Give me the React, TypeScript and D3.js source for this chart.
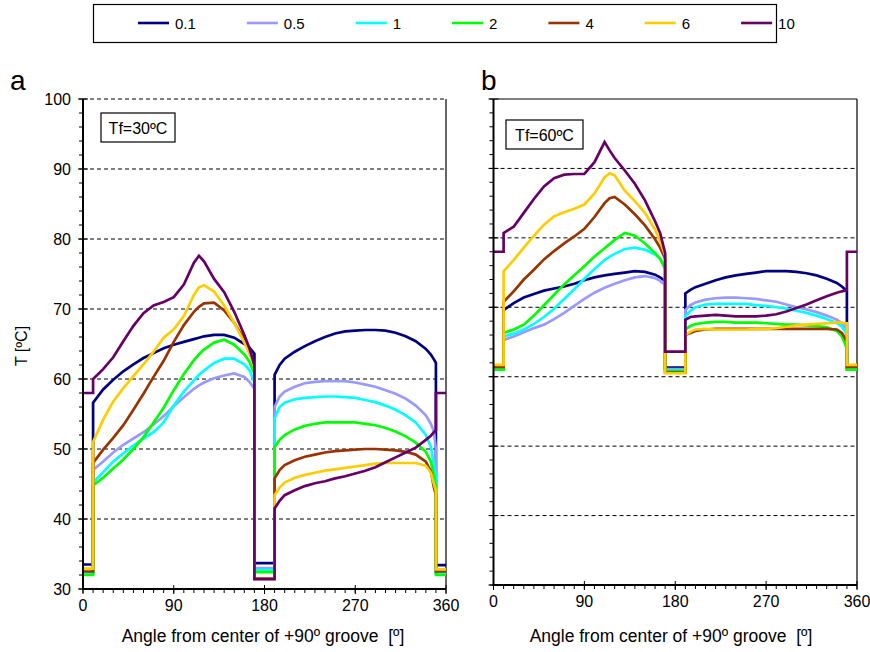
import React, { useEffect, useRef } from 'react'
import * as d3 from 'd3'

// legend / series
const SERIES = ['0.1', '0.5', '1', '2', '4', '6', '10']
const COLORS = ['#000080', '#9999FF', '#00FFFF', '#00FF00', '#993300', '#FFCC00', '#660066']

// angles [deg] of the two heated arcs
const ANGLES_RISE = [10, 20, 30, 40, 50, 60, 70, 80, 90, 100, 110, 115, 120, 130, 140, 150, 160, 165, 170]
const ANGLES_FALL = [190, 195, 200, 210, 220, 230, 240, 250, 260, 270, 280, 290, 300, 310, 320, 330, 340, 345, 348, 350]
const X_TICKS = [0, 90, 180, 270, 360]
const Y_TICKS = [30, 40, 50, 60, 70, 80, 90, 100]

// panel a, Tf = 30
const A_RISE = [
  [56.6, 58.5, 59.9, 61.1, 62.1, 63.0, 63.7, 64.4, 64.9, 65.3, 65.7, 65.9, 66.1, 66.3, 66.3, 65.9, 65.0, 64.5, 63.6],
  [47.0, 48.2, 49.5, 50.6, 51.5, 52.4, 53.5, 54.7, 56.1, 57.4, 58.6, 59.1, 59.5, 60.1, 60.5, 60.8, 60.3, 59.6, 58.6],
  [45.2, 46.7, 48.2, 49.4, 50.5, 51.5, 52.4, 53.8, 56.2, 58.2, 59.8, 60.6, 61.2, 62.3, 62.9, 62.9, 62.1, 61.3, 59.5],
  [44.8, 45.9, 47.2, 48.5, 50.0, 51.7, 53.8, 55.9, 58.4, 60.7, 62.7, 63.5, 64.2, 65.2, 65.6, 64.9, 63.5, 62.5, 60.8],
  [48.0, 49.9, 51.6, 53.4, 55.6, 57.9, 60.3, 62.6, 65.3, 67.7, 69.6, 70.3, 70.8, 70.9, 69.8, 68.0, 65.7, 64.2, 62.0],
  [51.0, 54.2, 56.8, 58.7, 60.4, 62.1, 63.9, 65.9, 67.1, 69.0, 72.0, 73.1, 73.4, 72.5, 70.5, 68.0, 65.2, 63.6, 62.0],
  [60.0, 61.4, 63.1, 65.4, 67.6, 69.4, 70.5, 71.0, 71.7, 73.5, 76.6, 77.6, 76.8, 74.3, 72.4, 69.6, 66.3, 64.4, 62.0],
]
const A_FALL = [
  [60.6, 62.0, 62.9, 63.9, 64.7, 65.4, 66.0, 66.5, 66.8, 66.9, 67.0, 67.0, 66.9, 66.6, 66.1, 65.4, 64.3, 63.5, 62.8, 62.3],
  [56.0, 57.5, 58.2, 58.9, 59.4, 59.6, 59.7, 59.7, 59.7, 59.5, 59.2, 58.9, 58.4, 57.9, 57.2, 56.2, 54.8, 53.6, 52.5, 50.0],
  [54.4, 56.0, 56.6, 57.1, 57.3, 57.4, 57.5, 57.5, 57.4, 57.3, 57.0, 56.7, 56.2, 55.6, 54.8, 53.8, 52.0, 50.3, 47.8, 46.0],
  [50.3, 51.3, 52.0, 52.8, 53.3, 53.6, 53.8, 53.8, 53.8, 53.8, 53.6, 53.4, 53.0, 52.5, 51.8, 50.9, 49.6, 48.2, 46.2, 44.5],
  [45.8, 47.0, 47.7, 48.4, 48.9, 49.2, 49.5, 49.7, 49.8, 49.9, 50.0, 50.0, 49.9, 49.8, 49.6, 49.2, 48.2, 46.8, 44.5, 43.5],
  [43.4, 44.5, 45.2, 45.9, 46.3, 46.6, 46.9, 47.1, 47.3, 47.5, 47.7, 47.9, 48.0, 48.0, 48.0, 48.0, 47.6, 46.6, 45.0, 44.0],
  [41.5, 42.6, 43.4, 44.1, 44.7, 45.1, 45.4, 45.8, 46.1, 46.5, 46.9, 47.4, 48.1, 48.8, 49.5, 50.2, 51.3, 51.9, 52.4, 52.7],
]
const A_GROOVE_LEFT = [33.5, 32.3, 32.2, 32.0, 32.5, 32.9, 58.0]
const A_GROOVE_MID = [33.7, 33.0, 32.7, 32.4, 31.5, 31.4, 31.4]
const A_GROOVE_RIGHT = [33.4, 32.6, 32.3, 32.0, 32.5, 32.8, 58.0]

// panel b, Tf = 60
const B_RISE = [
  [69.6, 70.6, 71.4, 71.9, 72.4, 72.7, 73.0, 73.4, 73.9, 74.3, 74.6, 74.7, 74.8, 75.0, 75.2, 75.1, 74.7, 74.3, 73.8],
  [65.3, 65.8, 66.4, 67.0, 67.5, 68.3, 69.2, 70.2, 71.2, 72.1, 72.8, 73.1, 73.4, 73.9, 74.3, 74.5, 74.2, 73.8, 73.2],
  [65.8, 66.2, 66.8, 67.6, 68.6, 69.8, 71.2, 72.6, 74.1, 75.5, 76.8, 77.3, 77.7, 78.4, 78.6, 78.3, 77.6, 77.0, 75.8],
  [66.3, 66.8, 67.5, 68.8, 70.3, 71.8, 73.3, 74.6, 75.9, 77.3, 78.5, 79.1, 79.7, 80.7, 80.3, 79.2, 77.8, 77.0, 75.5],
  [70.8, 72.3, 74.0, 75.4, 76.9, 78.1, 79.2, 80.2, 81.3, 83.0, 85.0, 85.7, 85.9, 84.8, 83.4, 81.8, 79.8, 78.6, 77.0],
  [75.2, 76.8, 78.6, 80.3, 81.9, 83.1, 83.7, 84.2, 84.8, 86.4, 88.7, 89.3, 89.0, 86.8, 85.3, 83.6, 81.2, 79.5, 77.5],
  [80.7, 81.6, 83.6, 85.6, 87.4, 88.6, 89.1, 89.2, 89.2, 90.9, 93.8, 92.6, 91.5, 89.7, 87.8, 85.4, 82.4, 80.7, 77.8],
]
const B_FALL = [
  [72.0, 72.5, 72.9, 73.4, 73.9, 74.3, 74.6, 74.8, 75.0, 75.2, 75.2, 75.2, 75.1, 74.9, 74.6, 74.1, 73.5, 73.0, 72.6, 72.3],
  [69.6, 70.3, 70.7, 71.1, 71.3, 71.4, 71.4, 71.3, 71.2, 71.0, 70.8, 70.4, 70.0, 69.7, 69.3, 68.8, 68.2, 67.7, 67.2, 66.8],
  [68.7, 69.5, 70.0, 70.4, 70.5, 70.5, 70.5, 70.5, 70.3, 70.2, 70.0, 69.8, 69.5, 69.2, 68.8, 68.3, 67.7, 67.2, 66.6, 66.0],
  [66.8, 67.3, 67.6, 67.8, 67.9, 67.9, 67.8, 67.8, 67.8, 67.7, 67.6, 67.5, 67.5, 67.4, 67.3, 67.1, 66.6, 65.8, 64.8, 64.0],
  [66.0, 66.3, 66.6, 66.8, 66.9, 66.9, 66.9, 66.9, 66.9, 66.9, 66.9, 66.9, 66.9, 66.9, 66.9, 66.9, 66.8, 66.3, 65.6, 65.0],
  [66.0, 66.5, 66.8, 66.9, 66.8, 66.8, 66.8, 66.8, 66.9, 66.9, 67.0, 67.2, 67.4, 67.5, 67.6, 67.7, 67.8, 67.8, 67.7, 67.7],
  [68.2, 68.6, 68.7, 68.8, 68.9, 68.8, 68.7, 68.7, 68.7, 68.8, 69.0, 69.4, 69.9, 70.4, 71.0, 71.6, 72.1, 72.3, 72.4, 72.5],
]
const B_GROOVE_LEFT = [61.3, 61.2, 61.1, 61.0, 61.4, 61.7, 78.0]
const B_GROOVE_MID = [61.3, 61.1, 60.9, 60.8, 60.6, 60.5, 63.6]
const B_GROOVE_RIGHT = [61.3, 61.2, 61.1, 61.0, 61.4, 61.7, 78.0]

const FONT = "'Liberation Sans', Arial, sans-serif"

function buildSeries(gl: number, rise: number[], gm: number, fall: number[], gr: number) {
  const pts: [number, number][] = [[0, gl], [ANGLES_RISE[0], gl]]
  ANGLES_RISE.forEach((a, i) => pts.push([a, rise[i]]))
  pts.push([ANGLES_RISE[ANGLES_RISE.length - 1], gm], [ANGLES_FALL[0], gm])
  ANGLES_FALL.forEach((a, i) => pts.push([a, fall[i]]))
  pts.push([ANGLES_FALL[ANGLES_FALL.length - 1], gr], [360, gr])
  return pts
}

function drawPanel(svg: any, p: any) {
  const x = d3.scaleLinear().domain([0, 360]).range([p.left, p.right])
  const y = d3.scaleLinear().domain([30, 100]).range([p.bottom, p.top])
  const g = svg.append('g')

  // dashed grid
  g.selectAll('.grid')
    .data(p.solidTop ? Y_TICKS.slice(1, -1) : Y_TICKS.slice(1))
    .enter().append('line')
    .attr('x1', p.left).attr('x2', p.right)
    .attr('y1', (d: number) => y(d)).attr('y2', (d: number) => y(d))
    .attr('stroke', '#000').attr('stroke-width', 1).attr('stroke-dasharray', '4,3')

  // frame (right, and top for b)
  g.append('line').attr('x1', p.right).attr('x2', p.right).attr('y1', p.top).attr('y2', p.bottom)
    .attr('stroke', '#000').attr('stroke-width', 1.2)
  if (p.solidTop) {
    g.append('line').attr('x1', p.left).attr('x2', p.right).attr('y1', p.top).attr('y2', p.top)
      .attr('stroke', '#000').attr('stroke-width', 1.2)
  }

  // curves
  const line = d3.line<[number, number]>().x(d => x(d[0])).y(d => y(d[1]))
  p.series.forEach((s: [number, number][], i: number) => {
    g.append('path').datum(s).attr('d', line)
      .attr('fill', 'none').attr('stroke', COLORS[i]).attr('stroke-width', 2.7)
      .attr('stroke-linejoin', 'miter')
  })

  // y axis
  const yMinor = g.append('g')
  yMinor.selectAll('line').data(d3.range(30, 101, 2)).enter().append('line')
    .attr('x1', p.left - 4).attr('x2', p.left)
    .attr('y1', (d: number) => y(d)).attr('y2', (d: number) => y(d))
    .attr('stroke', '#000').attr('stroke-width', 1)
  yMinor.selectAll('.maj').data(Y_TICKS).enter().append('line')
    .attr('x1', p.left - 5).attr('x2', p.left + 5)
    .attr('y1', (d: number) => y(d)).attr('y2', (d: number) => y(d))
    .attr('stroke', '#000').attr('stroke-width', 1)
  if (p.yLabels) {
    yMinor.selectAll('text').data(Y_TICKS).enter().append('text')
      .attr('x', p.left - 12).attr('y', (d: number) => y(d) + 5.5)
      .attr('text-anchor', 'end').style('font-size', '16px').style('font-family', FONT)
      .text((d: number) => d)
  }
  g.append('line').attr('x1', p.left).attr('x2', p.left).attr('y1', p.top).attr('y2', p.bottom + 1)
    .attr('stroke', '#000').attr('stroke-width', 2)

  // x axis
  const xa = g.append('g')
  xa.selectAll('line').data(d3.range(0, 361, 10)).enter().append('line')
    .attr('x1', (d: number) => x(d)).attr('x2', (d: number) => x(d))
    .attr('y1', p.bottom).attr('y2', p.bottom + 4)
    .attr('stroke', '#000').attr('stroke-width', 1)
  xa.selectAll('.maj').data(X_TICKS).enter().append('line')
    .attr('x1', (d: number) => x(d)).attr('x2', (d: number) => x(d))
    .attr('y1', p.bottom - 4).attr('y2', p.bottom + 5)
    .attr('stroke', '#000').attr('stroke-width', 1)
  xa.selectAll('text').data(X_TICKS).enter().append('text')
    .attr('x', (d: number) => x(d)).attr('y', p.bottom + 22)
    .attr('text-anchor', 'middle').style('font-size', '16px').style('font-family', FONT)
    .text((d: number) => d)
  g.append('line').attr('x1', p.left - 1).attr('x2', p.right).attr('y1', p.bottom).attr('y2', p.bottom)
    .attr('stroke', '#000').attr('stroke-width', 2)

  svg.append('text').attr('x', p.titleX).attr('y', 642)
    .attr('text-anchor', 'middle').style('font-size', '17.5px').style('font-family', FONT)
    .style('white-space', 'pre')
    .text('Angle from center of +90º groove  [º]')

  // panel letter and Tf box
  svg.append('text').attr('x', p.letterX).attr('y', 90)
    .style('font-size', '28px').style('font-family', FONT).text(p.letter)
  svg.append('rect').attr('x', p.box[0]).attr('y', p.box[1]).attr('width', p.box[2]).attr('height', p.box[3])
    .attr('fill', '#fff').attr('stroke', '#000').attr('stroke-width', 1.2)
  svg.append('text').attr('x', p.box[0] + p.box[2] / 2).attr('y', p.box[1] + p.box[3] / 2 + 6)
    .attr('text-anchor', 'middle').style('font-size', '16px').style('font-family', FONT).text(p.tf)
}

export default function App() {
  const ref = useRef<SVGSVGElement>(null)

  useEffect(() => {
    const svg = d3.select(ref.current)
    svg.selectAll('*').remove()
    svg.append('rect').attr('width', 870).attr('height', 652).attr('fill', '#fff')

    const seriesA = SERIES.map((_, i) => buildSeries(A_GROOVE_LEFT[i], A_RISE[i], A_GROOVE_MID[i], A_FALL[i], A_GROOVE_RIGHT[i]))
    const seriesB = SERIES.map((_, i) => buildSeries(B_GROOVE_LEFT[i], B_RISE[i], B_GROOVE_MID[i], B_FALL[i], B_GROOVE_RIGHT[i]))

    drawPanel(svg, {
      left: 83, right: 446, top: 99, bottom: 589, yLabels: true, solidTop: false, titleX: 263,
      series: seriesA, letter: 'a', letterX: 10, tf: 'Tf=30ºC', box: [101, 113, 74, 29],
    })
    drawPanel(svg, {
      left: 493.5, right: 857, top: 99, bottom: 585, yLabels: false, solidTop: true, titleX: 671,
      series: seriesB, letter: 'b', letterX: 481, tf: 'Tf=60ºC', box: [506, 120, 77, 29],
    })

    // y title
    svg.append('text').attr('transform', 'translate(27,346) rotate(-90)')
      .attr('text-anchor', 'middle').style('font-size', '16px').style('font-family', FONT)
      .text('T [ºC]')

    // legend
    svg.append('rect').attr('x', 93.5).attr('y', 4.5).attr('width', 683).attr('height', 38)
      .attr('fill', '#fff').attr('stroke', '#000').attr('stroke-width', 1.2)
    let lx = 138
    SERIES.forEach((s, i) => {
      svg.append('line').attr('x1', lx).attr('x2', lx + 31).attr('y1', 23).attr('y2', 23)
        .attr('stroke', COLORS[i]).attr('stroke-width', 2.6)
      const t = svg.append('text').attr('x', lx + 37).attr('y', 28.5)
        .style('font-size', '15px').style('font-family', FONT).text(s)
      const w = (t.node() as SVGTextElement).getComputedTextLength()
      lx += 88 + w
    })
  }, [])

  return (
    <svg ref={ref} width={870} height={652}
      style={{ position: 'absolute', left: 0, top: 0, display: 'block' }} />
  )
}
